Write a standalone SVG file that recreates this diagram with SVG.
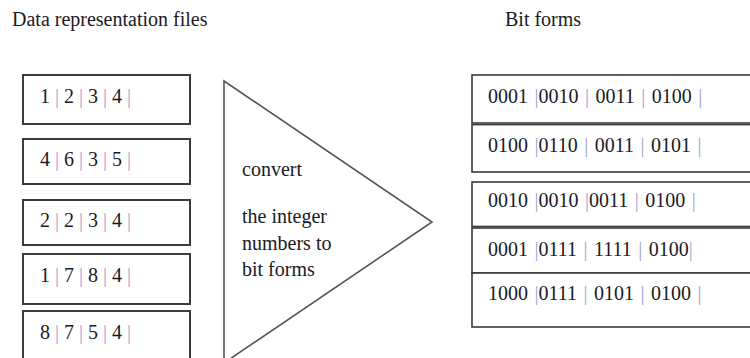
<svg xmlns="http://www.w3.org/2000/svg" width="750" height="358" viewBox="0 0 750 358">
<style>
text{font-family:"Liberation Serif","Times New Roman",serif;font-size:20px;fill:#1a1a24}
.p{fill:#9ea2d6}
.r{word-spacing:1.5px}
.box{fill:#fff;stroke:#3c3c3c;stroke-width:2}
.rbox{fill:#fff;stroke:#3a3a3a;stroke-width:1.6}
.tri{fill:#fff;stroke:#555;stroke-width:1.6}
</style>
<rect width="750" height="358" fill="#fff"/>
<text x="12" y="26">Data representation files</text>
<text x="505" y="26">Bit forms</text>

<g id="in1"><rect class="box" x="23" y="75" width="167" height="49"/><text x="40" y="103">1 <tspan class="p">|</tspan> 2 <tspan class="p">|</tspan> 3 <tspan class="p">|</tspan> 4 <tspan class="p">|</tspan></text></g>
<g id="in2"><rect class="box" x="23" y="139" width="167" height="45"/><text x="40" y="166">4 <tspan class="p">|</tspan> 6 <tspan class="p">|</tspan> 3 <tspan class="p">|</tspan> 5 <tspan class="p">|</tspan></text></g>
<g id="in3"><rect class="box" x="23" y="200" width="167" height="45"/><text x="40" y="227">2 <tspan class="p">|</tspan> 2 <tspan class="p">|</tspan> 3 <tspan class="p">|</tspan> 4 <tspan class="p">|</tspan></text></g>
<g id="in4"><rect class="box" x="23" y="254" width="167" height="50"/><text x="40" y="282">1 <tspan class="p">|</tspan> 7 <tspan class="p">|</tspan> 8 <tspan class="p">|</tspan> 4 <tspan class="p">|</tspan></text></g>
<g id="in5"><rect class="box" x="23" y="311" width="167" height="60"/><text x="40" y="339">8 <tspan class="p">|</tspan> 7 <tspan class="p">|</tspan> 5 <tspan class="p">|</tspan> 4 <tspan class="p">|</tspan></text></g>

<g id="convert">
<polygon class="tri" points="224,81 432,222 224,363"/>
<text x="242" y="176">convert</text>
<text x="242" y="223">the integer</text>
<text x="242" y="250">numbers to</text>
<text x="242" y="276">bit forms</text>
</g>

<g id="out1"><rect class="rbox" x="472" y="75" width="290" height="48"/><text class="r" x="488" y="103">0001 <tspan class="p">|</tspan>0010 <tspan class="p">|</tspan> 0011 <tspan class="p">|</tspan> 0100 <tspan class="p">|</tspan></text></g>
<g id="out2"><rect class="rbox" x="472" y="124.6" width="290" height="47.4"/><text class="r" x="488" y="152">0100 <tspan class="p">|</tspan>0110 <tspan class="p">|</tspan> 0011 <tspan class="p">|</tspan> 0101 <tspan class="p">|</tspan></text></g>
<g id="out3"><rect class="rbox" x="472" y="182" width="290" height="44.5"/><text class="r" x="488" y="207">0010 <tspan class="p">|</tspan>0010 <tspan class="p">|</tspan>0011 <tspan class="p">|</tspan> 0100 <tspan class="p">|</tspan></text></g>
<g id="out4"><rect class="rbox" x="472" y="228" width="290" height="45"/><text class="r" x="488" y="256">0001 <tspan class="p">|</tspan>0111 <tspan class="p">|</tspan> 1111 <tspan class="p">|</tspan> 0100<tspan class="p">|</tspan></text></g>
<g id="out5"><rect class="rbox" x="472" y="273" width="290" height="54"/><text class="r" x="488" y="300">1000 <tspan class="p">|</tspan>0111 <tspan class="p">|</tspan> 0101 <tspan class="p">|</tspan> 0100 <tspan class="p">|</tspan></text></g>

<g id="connectors"></g>
</svg>
